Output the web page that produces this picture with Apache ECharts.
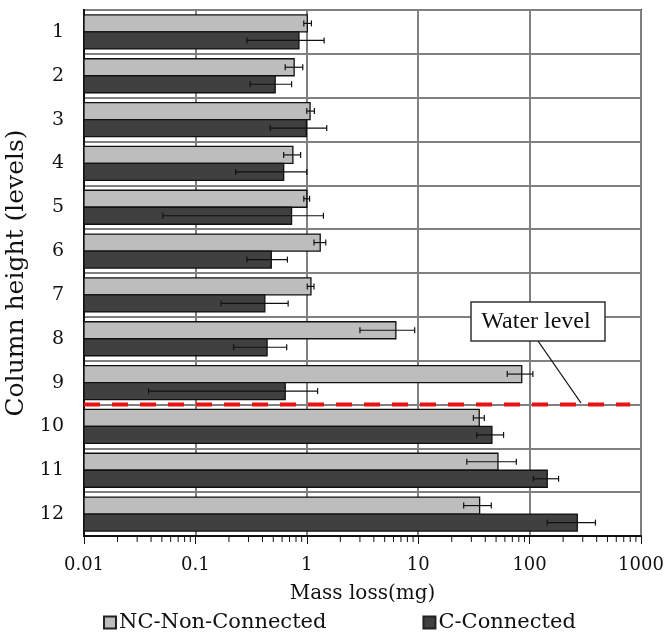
<!DOCTYPE html>
<html>
<head>
<meta charset="utf-8">
<script src="https://cdn.jsdelivr.net/npm/echarts@6/dist/echarts.min.js"></script>
<style>
  html, body { margin: 0; padding: 0; background: #fff; }
  #chart { width: 666px; height: 634px; }
</style>
</head>
<body>
<div id="chart"></div>
<script>
// column levels, top to bottom
const levels = ['1', '2', '3', '4', '5', '6', '7', '8', '9', '10', '11', '12'];

// NC - non connected (mean, error low, error high)
const ncMean = [1.01, 0.77, 1.07, 0.75, 1.0, 1.32, 1.09, 6.3, 85, 35.3, 52, 35.6];
const ncLow  = [0.94, 0.64, 1.0, 0.62, 0.94, 1.16, 1.01, 3.0, 63, 31.3, 27.3, 25.6];
const ncHigh = [1.10, 0.92, 1.17, 0.88, 1.06, 1.48, 1.16, 9.3, 107, 39.2, 76, 45.3];

// C - connected
const cMean = [0.85, 0.52, 0.99, 0.62, 0.73, 0.48, 0.42, 0.44, 0.64, 45.9, 144, 268];
const cLow  = [0.29, 0.31, 0.47, 0.23, 0.051, 0.29, 0.17, 0.22, 0.038, 33.5, 108, 144];
const cHigh = [1.43, 0.73, 1.51, 1.0, 1.41, 0.67, 0.68, 0.66, 1.25, 58.4, 182, 390];

const xTickLabels = ['0.01', '0.1', '1', '10', '100', '1000'];
const xMin = 0.01, xMax = 1000;

// water level sits between these two levels
const waterAbove = '9', waterBelow = '10';
const waterLineEnd = 800;

const serif = 'DejaVu Serif';
const barW = 17;

// minor ticks 2..9 of each decade
const minorTicks = [];
for (let i = 0; i < xTickLabels.length - 1; i++) {
  const d = Number(xTickLabels[i]);
  for (let m = 2; m <= 9; m++) minorTicks.push(d * m);
}

const toRows = (mean, low, high) => mean.map((v, i) => [i, v, low[i], high[i]]);

function barRenderer(side, fill) {
  return function (params, api) {
    const cat = api.value(0);
    const end = api.coord([api.value(1), cat]);
    const base = api.coord([xMin, cat]);
    const lo = api.coord([api.value(2), cat]);
    const hi = api.coord([api.value(3), cat]);
    const y0 = side < 0 ? end[1] - barW : end[1];
    const yc = y0 + barW / 2;
    const err = { stroke: '#111', lineWidth: 1.2 };
    return {
      type: 'group',
      children: [
        { type: 'rect', shape: { x: base[0], y: y0, width: end[0] - base[0], height: barW },
          style: { fill: fill, stroke: '#111', lineWidth: 1.3 } },
        { type: 'line', shape: { x1: lo[0], y1: yc, x2: hi[0], y2: yc }, style: err },
        { type: 'line', shape: { x1: lo[0], y1: yc - 3, x2: lo[0], y2: yc + 3 }, style: err },
        { type: 'line', shape: { x1: hi[0], y1: yc - 3, x2: hi[0], y2: yc + 3 }, style: err }
      ]
    };
  };
}

const chart = echarts.init(document.getElementById('chart'));

chart.setOption({
  animation: false,
  grid: {
    left: 84, right: 25, top: 10, bottom: 98,
    outerBoundsMode: 'none',
    show: true, borderColor: '#222', borderWidth: 2
  },
  legend: {
    data: ['NC-Non-Connected', 'C-Connected'],
    left: 103, top: 612,
    icon: 'rect',
    itemWidth: 12, itemHeight: 12, itemGap: 96,
    padding: 0,
    textStyle: { fontFamily: serif, fontSize: 21, color: '#111', padding: [0, 0, 0, -2] }
  },
  xAxis: {
    type: 'log', logBase: 10, min: xMin, max: xMax,
    name: 'Mass loss(mg)', nameLocation: 'middle', nameGap: 48,
    nameTextStyle: { fontFamily: serif, fontSize: 20, color: '#111' },
    axisLine: { show: true, lineStyle: { color: '#111', width: 2 } },
    axisTick: { show: true, length: 8, lineStyle: { color: '#111', width: 1 } },
    axisLabel: {
      fontFamily: serif, fontSize: 18, color: '#111', margin: 20,
      formatter: v => xTickLabels.find(t => Math.abs(Number(t) - v) < v * 1e-6) || ''
    },
    splitLine: { show: true, lineStyle: { color: '#808080', width: 2 } }
  },
  yAxis: {
    type: 'category', data: levels, inverse: true,
    name: 'Column height (levels)', nameLocation: 'middle', nameGap: 40,
    nameTextStyle: { fontFamily: serif, fontSize: 25, color: '#111' },
    axisLine: { show: true, lineStyle: { color: '#111', width: 2 } },
    axisTick: { show: false },
    axisLabel: { fontFamily: serif, fontSize: 19, color: '#111', margin: 20 },
    splitLine: { show: true, lineStyle: { color: '#808080', width: 2 } }
  },
  series: [
    {
      name: 'NC-Non-Connected', type: 'custom',
      itemStyle: { color: '#bdbdbd', borderColor: '#222', borderWidth: 1 },
      encode: { x: [1, 2, 3], y: 0 },
      renderItem: barRenderer(-1, '#bdbdbd'),
      data: toRows(ncMean, ncLow, ncHigh), z: 3
    },
    {
      name: 'C-Connected', type: 'custom',
      itemStyle: { color: '#404040', borderColor: '#222', borderWidth: 1 },
      encode: { x: [1, 2, 3], y: 0 },
      renderItem: barRenderer(1, '#404040'),
      data: toRows(cMean, cLow, cHigh), z: 3
    },
    {
      // minor ticks under the log axis
      type: 'custom', silent: true, z: 4,
      encode: { x: 0 },
      data: minorTicks.map(v => [v]),
      renderItem: function (params, api) {
        const p = api.coord([api.value(0), 0]);
        const yb = params.coordSys.y + params.coordSys.height;
        return { type: 'line', shape: { x1: p[0], y1: yb, x2: p[0], y2: yb + 6 },
          style: { stroke: '#111', lineWidth: 1 } };
      }
    },
    {
      // water level dashed line
      type: 'custom', silent: true, z: 5,
      data: [[0]],
      renderItem: function (params, api) {
        const a = api.coord([xMin, levels.indexOf(waterAbove)]);
        const b = api.coord([waterLineEnd, levels.indexOf(waterBelow)]);
        const y = (a[1] + b[1]) / 2;
        return { type: 'line', shape: { x1: a[0], y1: y, x2: b[0], y2: y },
          style: { stroke: '#ee1111', lineWidth: 4, lineDash: [16, 12] } };
      }
    }
  ],
  graphic: [
    { type: 'line', z: 10, shape: { x1: 538, y1: 341, x2: 581, y2: 403 },
      style: { stroke: '#111', lineWidth: 1.3 } },
    { type: 'rect', z: 10, shape: { x: 471, y: 302, width: 134, height: 39 },
      style: { fill: '#fff', stroke: '#333', lineWidth: 1.5 } },
    { type: 'text', z: 11, x: 536, y: 322,
      style: { text: 'Water level', font: '24px "Liberation Serif"', fill: '#111',
        align: 'center', verticalAlign: 'middle' } }
  ]
});
</script>
</body>
</html>
